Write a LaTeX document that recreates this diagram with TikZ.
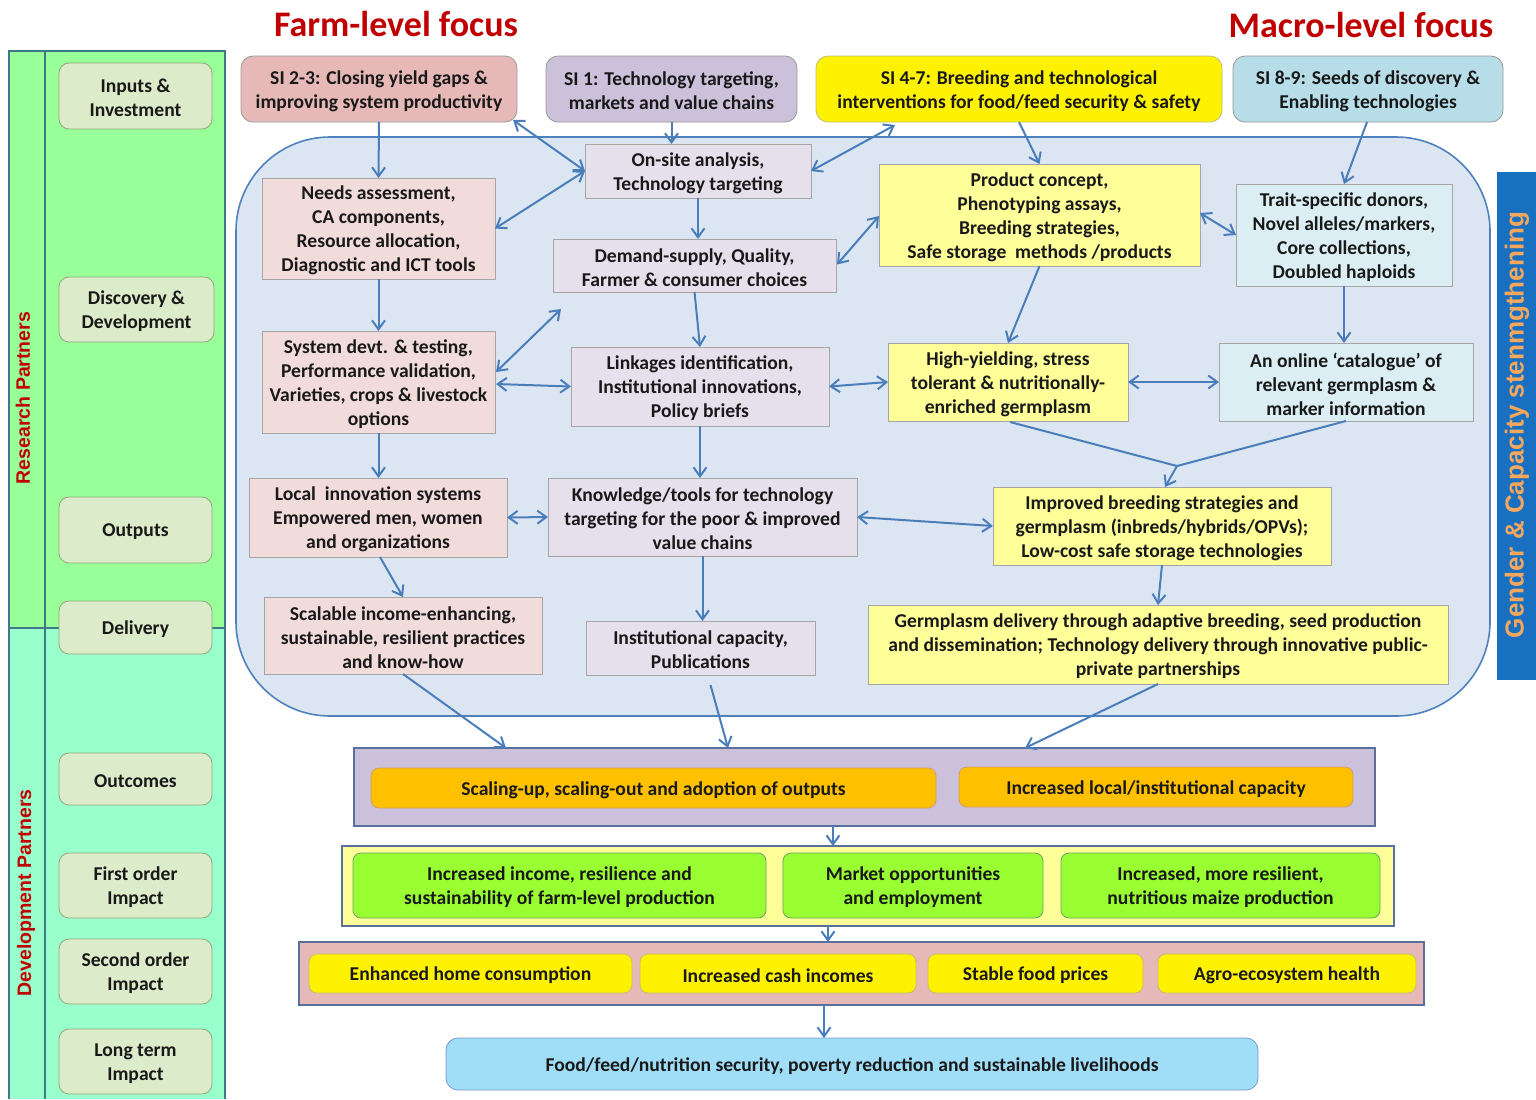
\documentclass[tikz,border=0pt]{standalone}
\usepackage{fontspec}
\setmainfont{Carlito}
\newfontfamily\sansb{Liberation Sans}
\usetikzlibrary{arrows.meta,calc}
\definecolor{arrc}{HTML}{4A7EBB}
\definecolor{pgreen}{HTML}{99FF99}
\definecolor{paqua}{HTML}{99FFCC}
\definecolor{pline}{HTML}{3F7888}
\definecolor{lfill}{HTML}{DCEBC9}
\definecolor{lbord}{HTML}{8FA87A}
\definecolor{titred}{HTML}{C00000}
\definecolor{sipink}{HTML}{E6B9B8}
\definecolor{silav}{HTML}{CCC1DA}
\definecolor{siblue}{HTML}{B7DDE8}
\definecolor{regfill}{HTML}{DCE6F2}
\definecolor{regbord}{HTML}{4F81BD}
\definecolor{ipink}{HTML}{F2DCDB}
\definecolor{ilav}{HTML}{E6E0EC}
\definecolor{iyel}{HTML}{FFFF99}
\definecolor{iblue}{HTML}{DBEEF4}
\definecolor{ibord}{HTML}{A6A6A6}
\definecolor{barblue}{HTML}{1A70C0}
\definecolor{barorange}{HTML}{F5A75E}
\definecolor{orangeb}{HTML}{FFC000}
\definecolor{greenb}{HTML}{99FF33}
\definecolor{ltblue}{HTML}{A0DEF8}
\definecolor{bandbord}{HTML}{5B6F9F}
\newcommand\myshape[6]{\node[#1, minimum width={(#5-#3)*0.5pt}, minimum height={(#6-#4)*0.5pt}] (#2) at ({(#3+#5)/2},{(#4+#6)/2}) {};}
\newcommand\mybox[7]{\myshape{#1}{#2}{#3}{#4}{#5}{#6}\node[txt] (#2-t) at ([yshift=-1pt]#2.center) {#7};}
\begin{document}
\begin{tikzpicture}[x=0.5pt,y=-0.5pt,
  base/.style={draw, inner sep=0pt, outer sep=0pt},
  txt/.style={inner sep=0pt, outer sep=0pt, align=center, font=\fontsize{9.8}{12}\selectfont\bfseries, text=black!90},
  lbox/.style={base, rounded corners=5pt, fill=lfill, draw=lbord},
  sibox/.style={base, rounded corners=6pt, draw=gray!80},
  inbox/.style={base, draw=ibord},
  band/.style={base, draw=bandbord, line width=0.9pt},
  smallr/.style={base, rounded corners=4pt},
  arr/.style={draw=arrc, line width=1pt, -{Straight Barb[length=4.5pt,width=6.5pt]}},
  darr/.style={draw=arrc, line width=1pt, {Straight Barb[length=4.5pt,width=6.5pt]}-{Straight Barb[length=4.5pt,width=6.5pt]}},
  plain/.style={draw=arrc, line width=1pt}]
\useasboundingbox (0,0) rectangle (1536,1099);
\fill[white] (0,0) rectangle (1536,1099);
% titles
\node[font=\fontsize{18}{20}\selectfont\bfseries, text=titred] (tfarm) at (396,24) {Farm-level focus};
\node[font=\fontsize{18}{20}\selectfont\bfseries, text=titred] (tmacro) at (1361,25) {Macro-level focus};
% left panel
\fill[pgreen] (9,51) rectangle (225,628);
\fill[paqua] (9,628) rectangle (225,1099);
\draw[pline, line width=0.8pt] (9,1099) -- (9,51) -- (225,51) -- (225,1099);
\draw[pline, line width=0.8pt] (45,51) -- (45,1099);
\draw[pline, line width=0.8pt] (9,628) -- (225,628);
\node[rotate=90, font=\sansb\fontsize{9.75}{11}\selectfont\bfseries, text=titred] (rp) at (23,398) {Research Partners};
\node[rotate=90, font=\sansb\fontsize{9.75}{11}\selectfont\bfseries, text=titred] (dp) at (26,893) {Development Partners};
\mybox{lbox}{inp}{59}{63}{212}{129}{Inputs \&\\Investment}
\mybox{lbox}{disc}{59}{277}{214}{342}{Discovery \&\\Development}
\mybox{lbox}{outp}{59}{497}{212}{563}{Outputs}
\mybox{lbox}{deliv}{59}{601}{212}{654}{Delivery}
\mybox{lbox}{outc}{59}{753}{212}{805}{Outcomes}
\mybox{lbox}{foi}{59}{853}{212}{918}{First order\\Impact}
\mybox{lbox}{soi}{59}{939}{212}{1004}{Second order\\Impact}
\mybox{lbox}{lti}{59}{1029}{212}{1094}{Long term\\Impact}
% top SI boxes
\mybox{sibox, fill=sipink}{si23}{241}{56}{517}{122}{SI 2-3: Closing yield gaps \&\\improving system productivity}
\mybox{sibox, fill=silav}{si1}{546}{56}{797}{122}{SI 1: Technology targeting,\\markets and value chains}
\mybox{sibox, fill=yellow, draw=yellow!60!black!70}{si47}{816}{56}{1222}{122}{SI 4-7: Breeding and technological\\interventions for food/feed security \& safety}
\mybox{sibox, fill=siblue}{si89}{1233}{56}{1503}{122}{SI 8-9: Seeds of discovery \&\\Enabling technologies}
% big region
\myshape{base, fill=regfill, draw=regbord, line width=0.8pt, rounded corners=47pt}{region}{236}{137}{1490}{716}
% right bar
\myshape{base, fill=barblue, draw=barblue}{bar}{1497}{172}{1536}{679}
\node[rotate=90, font=\sansb\fontsize{13}{14}\selectfont\bfseries, text=barorange] (bartxt) at (1517,425) {Gender \& Capacity stenmgthening};
% inner boxes farm column
\mybox{inbox, fill=ipink}{needs}{262}{178}{495}{279}{Needs assessment,\\CA components,\\Resource allocation,\\Diagnostic and ICT tools}
\mybox{inbox, fill=ipink}{system}{262}{331}{495}{433}{System devt. \& testing,\\Performance validation,\\Varieties, crops \& livestock\\options}
\mybox{inbox, fill=ipink}{local}{249}{478}{507}{557}{Local\ \ innovation systems\\Empowered men, women\\and organizations}
\mybox{inbox, fill=ipink}{scal}{264}{597}{542}{674}{Scalable income-enhancing,\\sustainable, resilient practices\\and know-how}
% middle column
\mybox{inbox, fill=ilav}{onsite}{585}{144}{811}{198}{On-site analysis,\\Technology targeting}
\mybox{inbox, fill=ilav}{demand}{553}{239}{836}{292}{Demand-supply, Quality,\\Farmer \& consumer choices}
\mybox{inbox, fill=ilav}{link}{571}{347}{829}{426}{Linkages identification,\\Institutional innovations,\\Policy briefs}
\mybox{inbox, fill=ilav}{know}{548}{478}{857}{556}{Knowledge/tools for technology\\targeting for the poor \& improved\\value chains}
\mybox{inbox, fill=ilav}{inst}{586}{621}{815}{675}{Institutional capacity,\\Publications}
% yellow column
\mybox{inbox, fill=iyel}{prod}{879}{164}{1200}{266}{Product concept,\\Phenotyping assays,\\Breeding strategies,\\Safe storage\ \ methods /products}
\mybox{inbox, fill=iyel}{hy}{888}{343}{1128}{421}{High-yielding, stress\\tolerant \& nutritionally-\\enriched germplasm}
\mybox{inbox, fill=iyel}{impr}{993}{487}{1331}{565}{Improved breeding strategies and\\germplasm (inbreds/hybrids/OPVs);\\Low-cost safe storage technologies}
\mybox{inbox, fill=iyel}{germ}{868}{605}{1448}{684}{Germplasm delivery through adaptive breeding, seed production\\and dissemination; Technology delivery through innovative public-\\private partnerships}
% blue column
\mybox{inbox, fill=iblue}{trait}{1236}{184}{1452}{286}{Trait-specific donors,\\Novel alleles/markers,\\Core collections,\\Doubled haploids}
\mybox{inbox, fill=iblue}{online}{1219}{343}{1473}{421}{An online ‘catalogue’ of\\relevant germplasm \&\\marker information}
% bottom bands
\myshape{band, fill=silav}{band1}{354}{748}{1375}{826}
\mybox{smallr, fill=orangeb, draw=orange!70!black!60}{scup}{371}{768}{936}{808}{Scaling-up, scaling-out and adoption of outputs}
\mybox{smallr, fill=orangeb, draw=orange!70!black!60}{inclc}{959}{767}{1353}{807}{Increased local/institutional capacity}
\myshape{band, fill=iyel}{band2}{342}{846}{1394}{926}
\mybox{smallr, fill=greenb, draw=green!40!black!60}{g1}{353}{853}{766}{918}{Increased income, resilience and\\sustainability of farm-level production}
\mybox{smallr, fill=greenb, draw=green!40!black!60}{g2}{783}{853}{1043}{918}{Market opportunities\\and employment}
\mybox{smallr, fill=greenb, draw=green!40!black!60}{g3}{1061}{853}{1380}{918}{Increased, more resilient,\\nutritious maize production}
\myshape{band, fill=sipink}{band3}{299}{942}{1424}{1005}
\mybox{smallr, fill=yellow, draw=yellow!60!black!70}{y1}{309}{954}{632}{993}{Enhanced home consumption}
\mybox{smallr, fill=yellow, draw=yellow!60!black!70}{y2}{640}{954}{916}{993}{Increased cash incomes}
\mybox{smallr, fill=yellow, draw=yellow!60!black!70}{y3}{928}{954}{1143}{993}{Stable food prices}
\mybox{smallr, fill=yellow, draw=yellow!60!black!70}{y4}{1158}{954}{1416}{993}{Agro-ecosystem health}
\mybox{smallr, fill=ltblue, draw=regbord!80, rounded corners=6pt}{lt}{446}{1038}{1258}{1090}{Food/feed/nutrition security, poverty reduction and sustainable livelihoods}
% arrows
\draw[arr] (si23.south) -- (needs.north);
\draw[darr] ($(si23.south east)+(-4,-2)$) -- (onsite.west);
\draw[darr] (needs.east) -- (onsite.west);
\draw[arr] (si1.south) -- (si1.south |- onsite.north);
\draw[darr] ($(si47.south west)+(79,3)$) -- (onsite.east);
\draw[arr] (si47.south) -- (prod.north);
\draw[arr] (onsite.south) -- (onsite.south |- demand.north);
\draw[darr] ($(demand.east)+(1,-1)$) -- ($(prod.west)+(0,1)$);
\draw[arr] ($(si89.south)+(-1,0)$) -- (trait.north);
\draw[darr] ($(prod.east)+(0,-2)$) -- (trait.west);
\draw[arr] (prod.south) -- (hy.north);
\draw[arr] (trait.south) -- (trait.south |- online.north);
\draw[arr] (demand.south) -- (link.north);
\draw[arr] (needs.south) -- (system.north);
\draw[darr] ($(system.east)+(1,-10)$) -- ($(demand.south west)+(8,17)$);
\draw[darr] ($(system.east)+(1,2)$) -- (link.west);
\draw[darr] (link.east) -- (hy.west);
\draw[darr] (hy.east) -- (online.west);
\coordinate (mg) at (1177,466);
\draw[plain] ($(hy.south)+(2,1)$) -- (mg) -- (online.south);
\draw[arr] (mg) -- ($(impr.north)+(3,0)$);
\draw[arr] (link.south) -- (link.south |- know.north);
\draw[arr] (system.south) -- (system.south |- local.north);
\draw[darr] (local.east) -- (know.west);
\draw[darr] (know.east) -- (impr.west);
\draw[arr] ($(local.south)+(2,0)$) -- (scal.north);
\draw[arr] (know.south) -- (know.south |- inst.north);
\draw[arr] (impr.south) -- (germ.north);
\draw[arr] (scal.south) -- ($(band1.north west)+(152,0)$);
\draw[arr] ($(inst.south)+(10,10)$) -- ($(band1.north west)+(374,0)$);
\draw[arr] (germ.south) -- ($(band1.north west)+(671,0)$);
\draw[arr] ($(band1.south west)+(479,0)$) -- ($(band2.north west)+(491,0)$);
\draw[arr] ($(band2.south west)+(486,0)$) -- ($(band3.north west)+(529,0)$);
\draw[arr] ($(band3.south west)+(525,0)$) -- ($(lt.north west)+(378,0)$);
\end{tikzpicture}
\end{document}
